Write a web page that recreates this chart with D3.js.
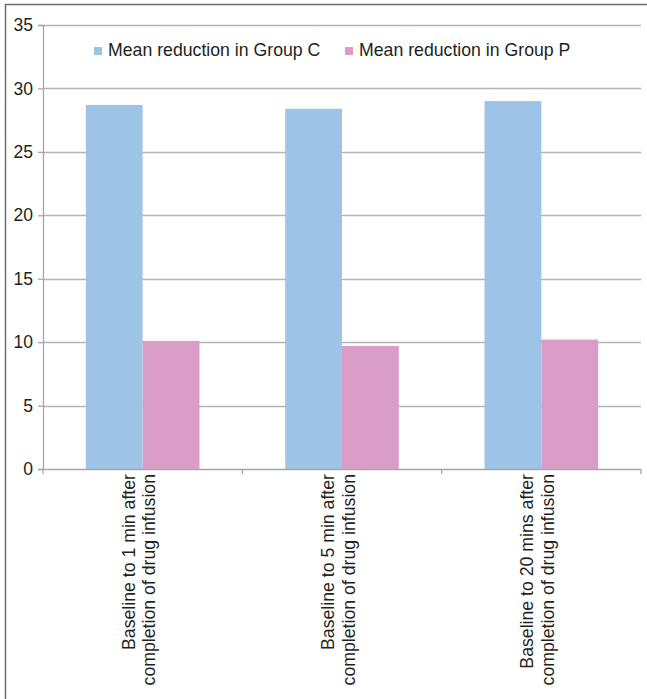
<!DOCTYPE html>
<html>
<head>
<meta charset="utf-8">
<script src="https://cdn.jsdelivr.net/npm/d3@7"></script>
<style>
  html, body { margin: 0; padding: 0; background: #fff; }
  svg { display: block; }
  text { font-family: "Liberation Sans", Arial, sans-serif; fill: #231f20; }
</style>
</head>
<body>
<svg id="chart" width="647" height="699"></svg>
<script>
// Mean reduction at each interval, per group
const categories = [
  ["Baseline to 1 min after", "completion of drug infusion"],
  ["Baseline to 5 min after", "completion of drug infusion"],
  ["Baseline to 20 mins after", "completion of drug infusion"]
];
const seriesNames = ["Mean reduction in Group C", "Mean reduction in Group P"];
const groupC = [28.7, 28.4, 29.0];
const groupP = [10.1, 9.7, 10.2];
const yTicks = [0, 5, 10, 15, 20, 25, 30, 35];
const colors = ["#9dc3e6", "#da9dc8"];

const svg = d3.select("#chart");
const W = 647, H = 699;
const margin = { left: 43, right: 6, top: 25, bottom: 230 };
const plotW = W - margin.left - margin.right;   // 598
const plotBottom = H - margin.bottom;            // 469

// Outer frame (left and top edges)
svg.append("line").attr("x1", 5.5).attr("x2", 5.5).attr("y1", 4).attr("y2", H)
  .attr("stroke", "#6d6d6d").attr("stroke-width", 1.5);
svg.append("line").attr("x1", 5).attr("x2", W).attr("y1", 4.5).attr("y2", 4.5)
  .attr("stroke", "#6d6d6d").attr("stroke-width", 1.5);

const x = d3.scaleBand()
  .domain(d3.range(categories.length))
  .range([margin.left, margin.left + plotW])
  .paddingInner(0).paddingOuter(0);

const y = d3.scaleLinear().domain([0, 35]).range([plotBottom, margin.top]);

// Horizontal gridlines
svg.append("g").selectAll("line").data(yTicks.filter(d => d > 0)).join("line")
  .attr("x1", margin.left).attr("x2", margin.left + plotW)
  .attr("y1", d => Math.round(y(d)) + 0.5).attr("y2", d => Math.round(y(d)) + 0.5)
  .attr("stroke", "#b3b3b3").attr("stroke-width", 1.3);

// Bars: two series side by side inside each category
const barW = x.bandwidth() * 0.285;
const series = [groupC, groupP];
series.forEach((vals, si) => {
  svg.append("g").selectAll("rect").data(vals).join("rect")
    .attr("x", (d, i) => x(i) + x.bandwidth() / 2 - barW + si * barW)
    .attr("width", barW)
    .attr("y", d => y(d))
    .attr("height", d => plotBottom - y(d))
    .attr("fill", colors[si]);
});

// Y axis
const yAxis = d3.axisLeft(y).tickValues(yTicks).tickSize(5).tickPadding(5)
  .tickFormat(d3.format("d"));
const gy = svg.append("g").attr("transform", `translate(${margin.left},0)`).call(yAxis);
gy.select(".domain").attr("stroke", "#a6a6a6").attr("stroke-width", 1.3);
gy.selectAll(".tick line").attr("stroke", "#a6a6a6").attr("stroke-width", 1.3);
gy.selectAll(".tick text").style("font-size", "17.5px").attr("fill", "#231f20")
  .attr("font-family", "Liberation Sans, Arial, sans-serif");

// X axis baseline with ticks at category boundaries
svg.append("line").attr("x1", margin.left).attr("x2", margin.left + plotW)
  .attr("y1", plotBottom + 0.5).attr("y2", plotBottom + 0.5)
  .attr("stroke", "#a6a6a6").attr("stroke-width", 1.3);
const bounds = d3.range(categories.length + 1).map(i => margin.left + i * x.step());
svg.append("g").selectAll("line").data(bounds).join("line")
  .attr("x1", d => d).attr("x2", d => d)
  .attr("y1", plotBottom).attr("y2", plotBottom + 5)
  .attr("stroke", "#a6a6a6").attr("stroke-width", 1.3);

// Rotated two-line category labels
const lab = svg.append("g").selectAll("text").data(categories).join("text")
  .attr("transform", (d, i) => `translate(${x(i) + x.bandwidth() / 2},${plotBottom + 5}) rotate(-90)`)
  .attr("text-anchor", "end")
  .style("font-size", "17.7px");
lab.each(function(d) {
  const t = d3.select(this);
  t.append("tspan").attr("x", 0).attr("y", -8).text(d[0]);
  t.append("tspan").attr("x", 0).attr("y", 12.5).text(d[1]);
});

// Legend
const legendItems = [
  { name: seriesNames[0], color: colors[0], x: 94 },
  { name: seriesNames[1], color: colors[1], x: 345 }
];
const lg = svg.append("g").selectAll("g").data(legendItems).join("g")
  .attr("transform", d => `translate(${d.x},0)`);
lg.append("rect").attr("x", 0).attr("y", 47).attr("width", 8).attr("height", 8)
  .attr("fill", d => d.color);
lg.append("text").attr("x", 14).attr("y", 55.5).style("font-size", "17.7px")
  .text(d => d.name);
</script>
</body>
</html>
